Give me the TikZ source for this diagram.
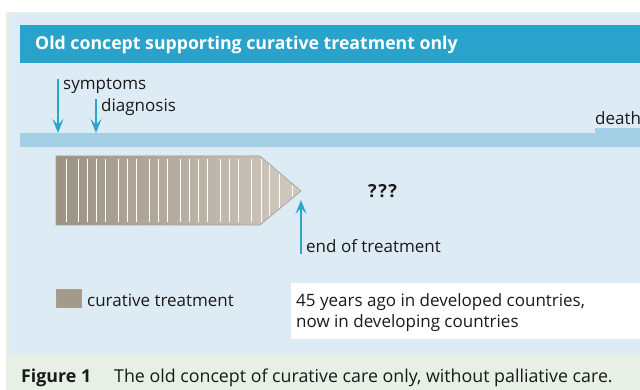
\documentclass[tikz,border=0pt]{standalone}
\usepackage{fontspec}
\setmainfont{Open Sans}
\usepackage{xcolor}
\usepackage{tikz}
\usetikzlibrary{positioning, arrows.meta}

\definecolor{panelblue}{HTML}{DDEBF4}
\definecolor{capgreen}{HTML}{E6F0E5}
\definecolor{titleblue}{HTML}{29A3CC}
\definecolor{barblue}{HTML}{A4D0E5}
\definecolor{arrowblue}{HTML}{2AA5CC}
\definecolor{brownL}{HTML}{9C9283}
\definecolor{brownR}{HTML}{D2CAC0}
\definecolor{brownE}{HTML}{A89E92}
\definecolor{ink}{HTML}{1A1A1A}

\begin{document}
\begin{tikzpicture}[x=1pt, y=-1pt, >={Stealth[length=14pt, width=11pt, inset=6pt]},
    txt/.style={anchor=base west, inner sep=0pt, text=ink, font=\fontsize{17}{20}\selectfont},
    flecha/.style={->, draw=arrowblue, line width=2.2pt}]

    % Fondos
    \useasboundingbox (0,0) rectangle (640,390);
    \fill[white] (0,0) rectangle (640,390);
    \fill[capgreen] (6,12) rectangle (640,390);
    \fill[panelblue] (9,13) rectangle (640,354);

    % Barra del título
    \fill[titleblue] (20,25) rectangle (640,63);
    \node[txt, text=white, font=\bfseries\fontsize{17.7}{21}\selectfont] (title) at (35,50)
        {Old concept supporting curative treatment only};

    % Línea de tiempo con el escalón de la muerte
    \fill[barblue] (20,133) rectangle (640,147);
    \fill[barblue] (595,128) rectangle (640,133);
    \coordinate (symbar) at (58,133);
    \coordinate (diagbar) at (96,133);

    \node[txt] (sym) at (63,90) {symptoms};
    \node[txt] (diag) at (101,112) {diagnosis};
    \node[txt] (death) at (595,125) {death};

    % Tratamiento curativo: flecha sombreada con rayas blancas
    \coordinate (tip) at (301,191);
    \path[left color=brownL, right color=brownR, draw=brownE, line width=0.6pt]
        (56,156) -- (260,156) -- (tip) -- (260,225) -- (56,225) -- cycle;
    \begin{scope}
        \clip (56,157) -- (260,157) -- (299,191) -- (260,224) -- (56,224) -- cycle;
        \foreach \x in {66,78,87,96,105,118,127,136,149,158,167,180,189,198,207,220,229,238,251,261,269,279,292}
            \draw[white, line width=0.9pt] (\x,159) -- (\x,222);
    \end{scope}

    \node[txt, font=\bfseries\fontsize{18}{21}\selectfont] (ques) at (368,198) {?\kern1.5pt?\kern1.5pt?};

    \coordinate (eotfoot) at (301,254);
    \node[txt] (eot) at (306,253) {end of treatment};

    % Flechas
    \draw[flecha] (sym.north west -| symbar) -- (symbar);
    \draw[flecha] (diag.north west -| diagbar) -- (diagbar);
    \draw[flecha, shorten >=9pt] (eotfoot) -- (tip);

    % Leyenda
    \draw[fill=brownL!85!brownR, draw=brownE, line width=0.6pt] (56,289) rectangle (81,307);
    \node[txt] (leg) at (87,306) {curative treatment};

    % Recuadro blanco
    \fill[white] (291,283) rectangle (640,339);
    \node[txt] (note1) at (296,306) {45 years ago in developed countries,};
    \node[txt] (note2) at (296,327) {now in developing countries};

    % Pie de figura
    \node[txt, font=\bfseries\fontsize{17.8}{21}\selectfont] (fig) at (21,382) {Figure 1};
    \node[txt, font=\fontsize{17.8}{21}\selectfont] (cap) at (114,382) {The old concept of curative care only, without palliative care.};
\end{tikzpicture}
\end{document}
